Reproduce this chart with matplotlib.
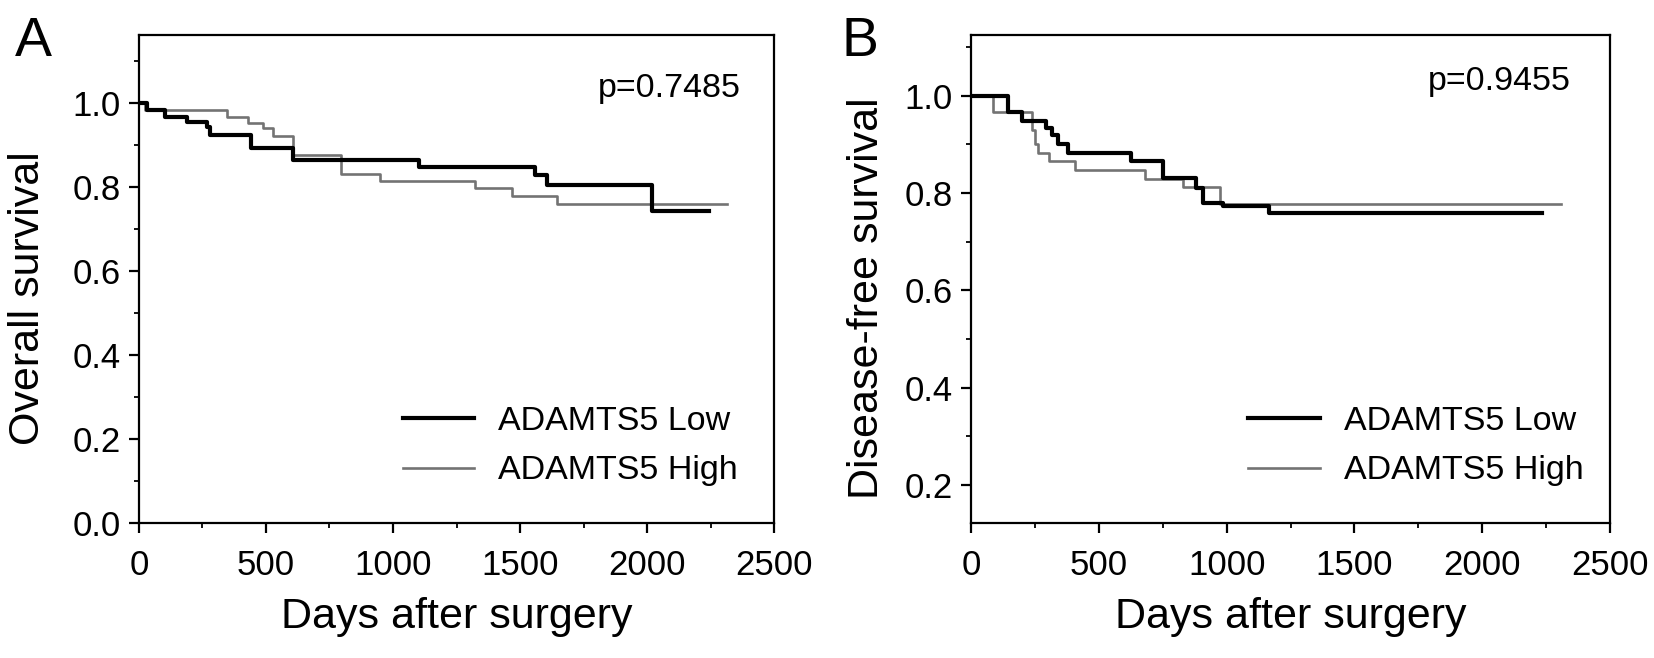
import matplotlib
matplotlib.use('Agg')
import matplotlib.pyplot as plt
from matplotlib.ticker import MultipleLocator, FormatStrFormatter

plt.rcParams['font.family'] = ['Liberation Sans', 'DejaVu Sans']

# Panel A: overall survival (step curves, time in days)
os_low_days = [0, 30, 102, 188, 266, 280, 443, 605, 1102, 1560, 1607, 2018, 2244]
os_low_surv = [1.0, 0.983, 0.967, 0.955, 0.944, 0.924, 0.894, 0.865, 0.847, 0.828, 0.806, 0.742, 0.742]
os_high_days = [0, 25, 345, 430, 490, 529, 608, 797, 949, 1322, 1469, 1645, 2315]
os_high_surv = [1.0, 0.983, 0.967, 0.952, 0.940, 0.922, 0.877, 0.830, 0.814, 0.797, 0.778, 0.759, 0.759]

# Panel B: disease-free survival
dfs_low_days = [0, 146, 198, 293, 315, 340, 381, 625, 752, 882, 906, 985, 1166, 2233]
dfs_low_surv = [1.0, 0.966, 0.949, 0.934, 0.920, 0.901, 0.883, 0.865, 0.832, 0.81, 0.779, 0.774, 0.760, 0.760]
dfs_high_days = [0, 87, 237, 250, 263, 305, 407, 681, 831, 975, 2308]
dfs_high_surv = [1.0, 0.966, 0.93, 0.90, 0.883, 0.866, 0.848, 0.830, 0.812, 0.777, 0.777]

labels = ['ADAMTS5 Low', 'ADAMTS5 High']
p_values = ['p=0.7485', 'p=0.9455']
ylabels = ['Overall survival', 'Disease-free survival']
panel_tags = ['A', 'B']

fig = plt.figure(figsize=(16.54, 6.58), dpi=100)
ax_a = fig.add_axes([0.0840, 0.2052, 0.3840, 0.7416])
ax_b = fig.add_axes([0.5871, 0.2052, 0.3863, 0.7416])

panels = [
    (ax_a, os_low_days, os_low_surv, os_high_days, os_high_surv, (0, 1.162), -0.143, 0.948, 0.873, 0.97, -0.195),
    (ax_b, dfs_low_days, dfs_low_surv, dfs_high_days, dfs_high_surv, (0.122, 1.125), -0.131, 0.939, 0.887, 0.985, -0.202),
]

for i, (ax, ld, ls, hd, hs, ylim, ylab_x, p_x, p_y, leg_x, tag_x) in enumerate(panels):
    ax.step(ld, ls, where='post', color='black', lw=3.0, label=labels[0], zorder=3)
    ax.step(hd, hs, where='post', color='#737373', lw=1.9, label=labels[1], zorder=2)

    ax.set_xlim(0, 2500)
    ax.set_ylim(*ylim)
    ax.xaxis.set_major_locator(MultipleLocator(500))
    ax.xaxis.set_minor_locator(MultipleLocator(250))
    ax.yaxis.set_major_locator(MultipleLocator(0.2))
    ax.yaxis.set_minor_locator(MultipleLocator(0.1))
    ax.yaxis.set_major_formatter(FormatStrFormatter('%.1f'))

    for sp in ax.spines.values():
        sp.set_linewidth(1.6)
    ax.tick_params(which='major', direction='out', length=7, width=1.6, labelsize=25)
    ax.tick_params(which='minor', direction='out', length=3.5, width=1.3)
    ax.tick_params(axis='x', which='major', pad=11.5)
    ax.tick_params(axis='y', which='major', pad=6)
    ax.tick_params(top=False, right=False, which='both')

    ax.set_xlabel('Days after surgery', fontsize=31)
    ax.xaxis.set_label_coords(0.5, -0.152)
    ax.set_ylabel(ylabels[i], fontsize=31)
    ax.yaxis.set_label_coords(ylab_x, 0.46)

    ax.text(p_x, p_y, p_values[i], transform=ax.transAxes,
            ha='right', va='baseline', fontsize=24.5)

    ax.legend(loc='lower right', bbox_to_anchor=(leg_x, 0.04),
              frameon=False, fontsize=24.5, handlelength=2.1, handletextpad=0.7,
              labelspacing=0.55, borderpad=0)

    ax.text(tag_x, 0.985, panel_tags[i], transform=ax.transAxes,
            ha='left', va='center', fontsize=40)

plt.savefig('out.png', dpi=100)
plt.close()
